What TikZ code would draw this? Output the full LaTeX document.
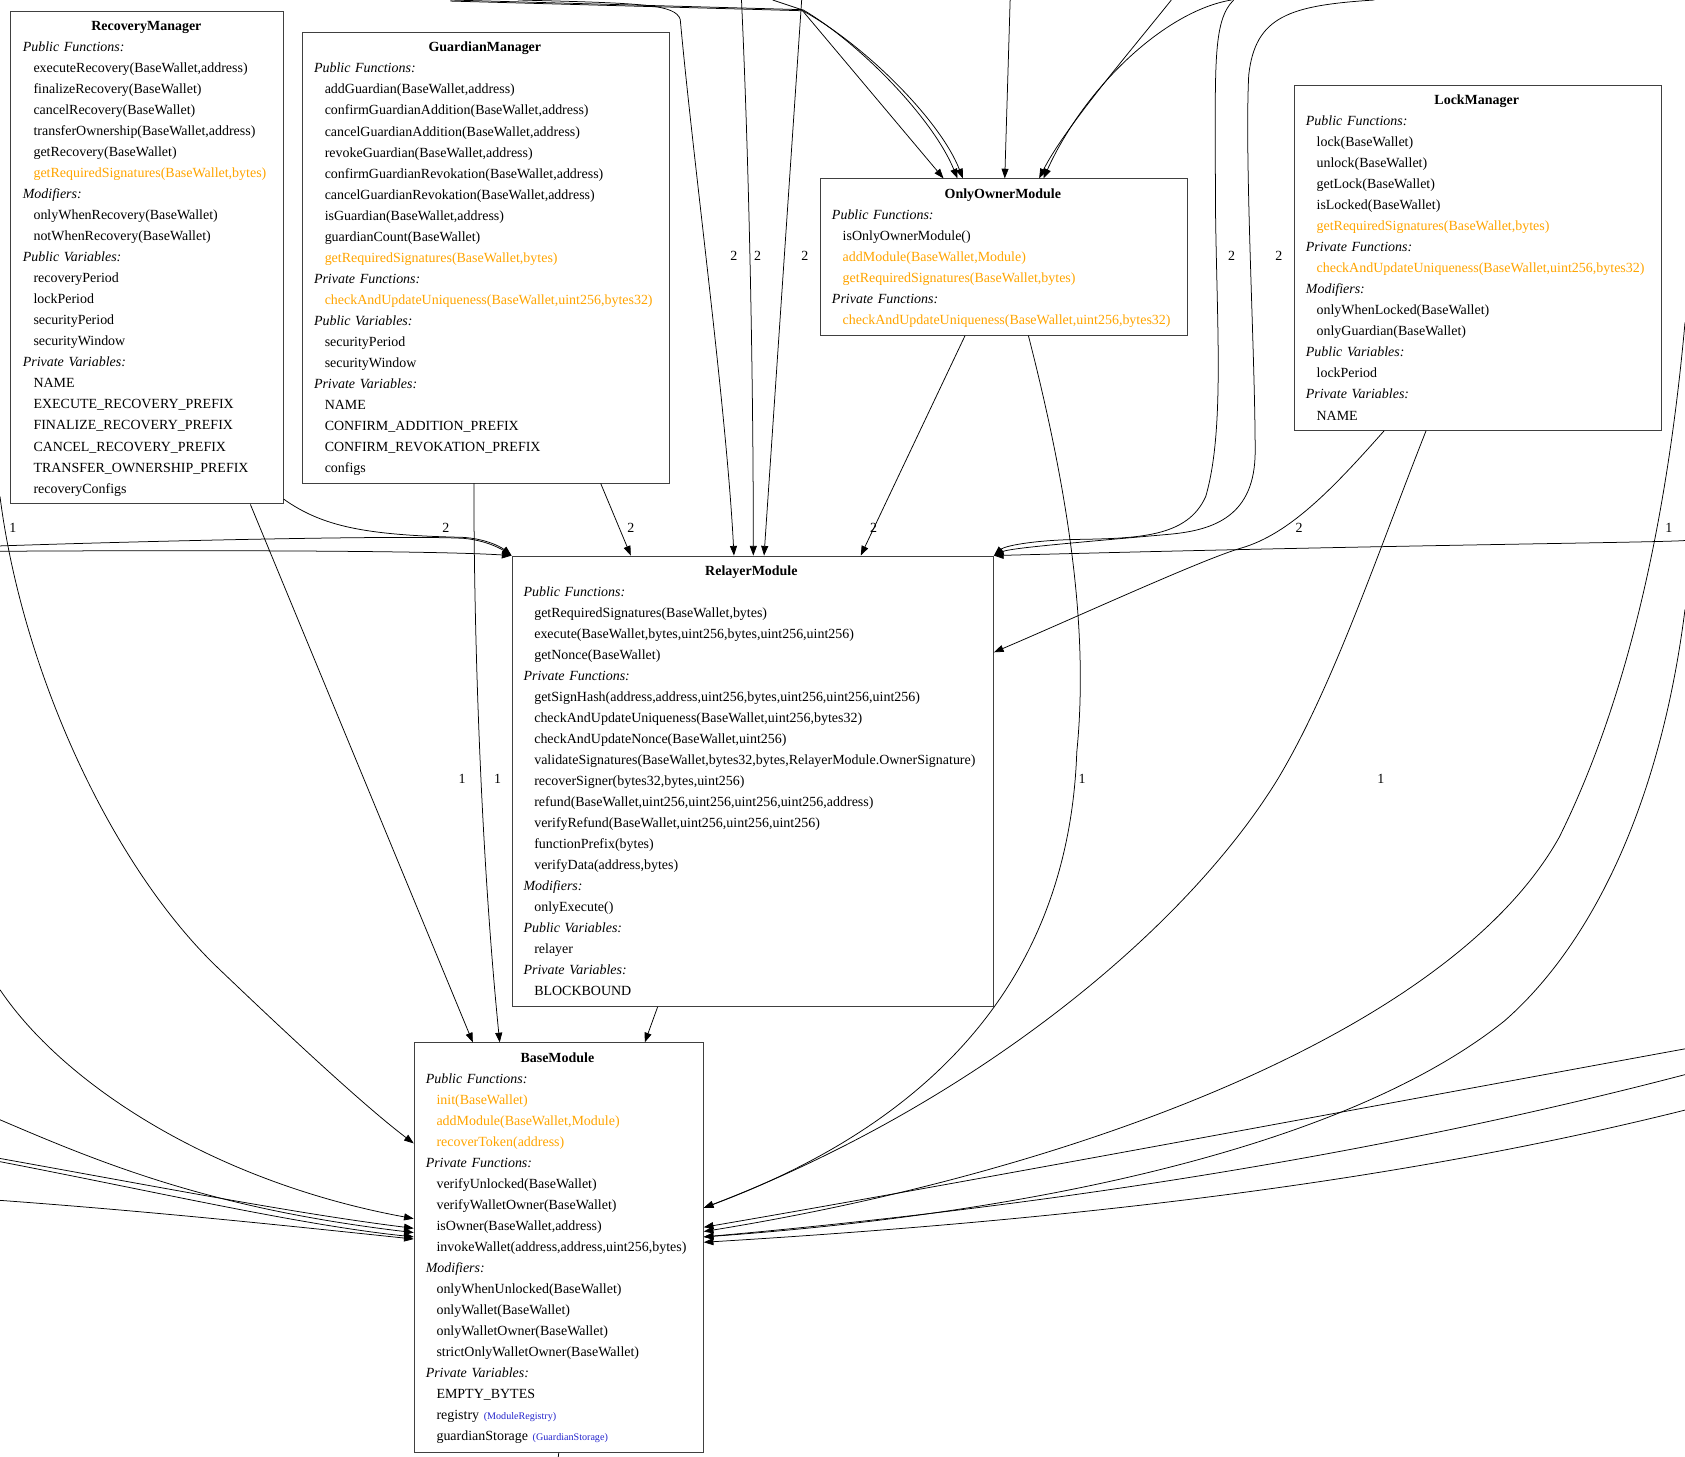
\documentclass[tikz,border=0pt]{standalone}
\usepackage{fontspec}
\setmainfont{Liberation Serif}
\usetikzlibrary{arrows.meta,calc}
\definecolor{fnorange}{HTML}{FFA500}
\definecolor{typblue}{HTML}{2424CC}
\newcommand\ttl[1]{\makebox[\linewidth][c]{\bfseries #1}\par}
\newcommand\hd[1]{\mbox{\itshape #1}\par}
\newcommand\itm[1]{\mbox{\hspace*{10pt}#1}\par}
\newcommand\oitm[1]{\mbox{\hspace*{10pt}\textcolor{fnorange}{#1}}\par}
\newcommand\typ[1]{{\fontsize{9.4}{10}\selectfont\textcolor{typblue}{(#1)}}}
\tikzset{
  cls/.style={draw=black!75, line width=0.9pt, inner sep=0pt, anchor=north west, fill=white},
  txt/.style={anchor=base west, inner sep=0pt, align=left, font=\fontsize{13}{19.57}\selectfont},
  edge/.style={draw, line width=0.7pt, -{Triangle[length=9pt,width=6.5pt]}},
  plain/.style={draw, line width=0.7pt},
  lbl/.style={inner sep=0pt, font=\fontsize{13}{14}\selectfont}
}
\begin{document}
\begin{tikzpicture}[x=1pt,y=-1pt]
\useasboundingbox[fill=white] (0,0) rectangle (1568,1355);

% free ends
\coordinate (tA) at (482,0);
\coordinate (tB) at (690,0);
\coordinate (tC) at (746,0);
\coordinate (tD) at (1148,0);
\coordinate (tE) at (1279,0);
\coordinate (tF) at (419,0);
\coordinate (tG) at (419,1);
\coordinate (tH) at (719,0);
\coordinate (tI) at (940,0);
\coordinate (tJ) at (1090,0);
\coordinate (tK) at (1146,0);
\coordinate (lA) at (0,508);
\coordinate (lA2) at (0,513);
\coordinate (lB) at (0,462);
\coordinate (lC) at (0,921);
\coordinate (lD) at (0,1042);
\coordinate (lE) at (0,1078);
\coordinate (lF) at (0,1081);
\coordinate (lG) at (0,1117);
\coordinate (rA) at (1568,503);
\coordinate (rB) at (1568,300);
\coordinate (rC) at (1568,567);
\coordinate (rD) at (1568,976);
\coordinate (rE) at (1568,1000);
\coordinate (rF) at (1568,1033);
\coordinate (bB) at (519.5,1356);

% boxes
\node[cls, minimum width=254pt, minimum height=458.5pt] (rm) at (9,10) {};
\node[cls, minimum width=342pt, minimum height=419pt] (gm) at (281,30) {};
\node[cls, minimum width=342pt, minimum height=145.5pt] (oo) at (763,166) {};
\node[cls, minimum width=342pt, minimum height=321pt] (lm) at (1204,79) {};
\node[cls, minimum width=448pt, minimum height=419pt] (rl) at (476,517) {};
\node[cls, minimum width=269pt, minimum height=381pt] (bm) at (385,970) {};

% box texts
\node[txt, text width=230pt] (rmt) at (21,28.3) {%
\ttl{RecoveryManager}
\hd{Public Functions:}
\itm{executeRecovery(BaseWallet,address)}
\itm{finalizeRecovery(BaseWallet)}
\itm{cancelRecovery(BaseWallet)}
\itm{transferOwnership(BaseWallet,address)}
\itm{getRecovery(BaseWallet)}
\oitm{getRequiredSignatures(BaseWallet,bytes)}
\hd{Modifiers:}
\itm{onlyWhenRecovery(BaseWallet)}
\itm{notWhenRecovery(BaseWallet)}
\hd{Public Variables:}
\itm{recoveryPeriod}
\itm{lockPeriod}
\itm{securityPeriod}
\itm{securityWindow}
\hd{Private Variables:}
\itm{NAME}
\itm{EXECUTE\_RECOVERY\_PREFIX}
\itm{FINALIZE\_RECOVERY\_PREFIX}
\itm{CANCEL\_RECOVERY\_PREFIX}
\itm{TRANSFER\_OWNERSHIP\_PREFIX}
\itm{recoveryConfigs}};

\node[txt, text width=318pt] (gmt) at (292,48.3) {%
\ttl{GuardianManager}
\hd{Public Functions:}
\itm{addGuardian(BaseWallet,address)}
\itm{confirmGuardianAddition(BaseWallet,address)}
\itm{cancelGuardianAddition(BaseWallet,address)}
\itm{revokeGuardian(BaseWallet,address)}
\itm{confirmGuardianRevokation(BaseWallet,address)}
\itm{cancelGuardianRevokation(BaseWallet,address)}
\itm{isGuardian(BaseWallet,address)}
\itm{guardianCount(BaseWallet)}
\oitm{getRequiredSignatures(BaseWallet,bytes)}
\hd{Private Functions:}
\oitm{checkAndUpdateUniqueness(BaseWallet,uint256,bytes32)}
\hd{Public Variables:}
\itm{securityPeriod}
\itm{securityWindow}
\hd{Private Variables:}
\itm{NAME}
\itm{CONFIRM\_ADDITION\_PREFIX}
\itm{CONFIRM\_REVOKATION\_PREFIX}
\itm{configs}};

\node[txt, text width=318pt] (oot) at (774,184.3) {%
\ttl{OnlyOwnerModule}
\hd{Public Functions:}
\itm{isOnlyOwnerModule()}
\oitm{addModule(BaseWallet,Module)}
\oitm{getRequiredSignatures(BaseWallet,bytes)}
\hd{Private Functions:}
\oitm{checkAndUpdateUniqueness(BaseWallet,uint256,bytes32)}};

\node[txt, text width=318pt] (lmt) at (1215,97.3) {%
\ttl{LockManager}
\hd{Public Functions:}
\itm{lock(BaseWallet)}
\itm{unlock(BaseWallet)}
\itm{getLock(BaseWallet)}
\itm{isLocked(BaseWallet)}
\oitm{getRequiredSignatures(BaseWallet,bytes)}
\hd{Private Functions:}
\oitm{checkAndUpdateUniqueness(BaseWallet,uint256,bytes32)}
\hd{Modifiers:}
\itm{onlyWhenLocked(BaseWallet)}
\itm{onlyGuardian(BaseWallet)}
\hd{Public Variables:}
\itm{lockPeriod}
\hd{Private Variables:}
\itm{NAME}};

\node[txt, text width=424pt] (rlt) at (487,535.3) {%
\ttl{RelayerModule}
\hd{Public Functions:}
\itm{getRequiredSignatures(BaseWallet,bytes)}
\itm{execute(BaseWallet,bytes,uint256,bytes,uint256,uint256)}
\itm{getNonce(BaseWallet)}
\hd{Private Functions:}
\itm{getSignHash(address,address,uint256,bytes,uint256,uint256,uint256)}
\itm{checkAndUpdateUniqueness(BaseWallet,uint256,bytes32)}
\itm{checkAndUpdateNonce(BaseWallet,uint256)}
\itm{validateSignatures(BaseWallet,bytes32,bytes,RelayerModule.OwnerSignature)}
\itm{recoverSigner(bytes32,bytes,uint256)}
\itm{refund(BaseWallet,uint256,uint256,uint256,uint256,address)}
\itm{verifyRefund(BaseWallet,uint256,uint256,uint256)}
\itm{functionPrefix(bytes)}
\itm{verifyData(address,bytes)}
\hd{Modifiers:}
\itm{onlyExecute()}
\hd{Public Variables:}
\itm{relayer}
\hd{Private Variables:}
\itm{BLOCKBOUND}};

\node[txt, text width=245pt] (bmt) at (396,988.3) {%
\ttl{BaseModule}
\hd{Public Functions:}
\oitm{init(BaseWallet)}
\oitm{addModule(BaseWallet,Module)}
\oitm{recoverToken(address)}
\hd{Private Functions:}
\itm{verifyUnlocked(BaseWallet)}
\itm{verifyWalletOwner(BaseWallet)}
\itm{isOwner(BaseWallet,address)}
\itm{invokeWallet(address,address,uint256,bytes)}
\hd{Modifiers:}
\itm{onlyWhenUnlocked(BaseWallet)}
\itm{onlyWallet(BaseWallet)}
\itm{onlyWalletOwner(BaseWallet)}
\itm{strictOnlyWalletOwner(BaseWallet)}
\hd{Private Variables:}
\itm{EMPTY\_BYTES}
\itm{registry \typ{ModuleRegistry}}
\itm{guardianStorage \typ{GuardianStorage}}};

% edges into RelayerModule
\draw[edge] (tA) .. controls (600,3) and (628,4) .. (633,18) .. controls (645,150) and (676,380) .. ($(rl.north west)+(207,0)$);
\draw[edge] (tB) .. controls (697,150) and (701,350) .. ($(rl.north west)+(225,0)$);
\draw[edge] (tC) -- ($(rl.north west)+(235,0)$);
\draw[edge] ($(gm.south west)+(278,0)$) -- ($(rl.north west)+(111,0)$);
\draw[edge] ($(oo.south west)+(135,0)$) -- ($(rl.north west)+(325,0)$);
\draw[edge] ($(rm.south east)+(0,-5)$) .. controls (300,490) and (340,498) .. (430,500) .. controls (450,501) and (465,508) .. (rl.north west);
\draw[edge] (lA) .. controls (150,503) and (380,498) .. (432,501) .. controls (452,503) and (465,510) .. (rl.north west);
\draw[edge] (lA2) .. controls (150,512) and (400,512) .. (rl.north west);
\draw[edge] (tD) .. controls (1128,20) and (1131,60) .. (1131,186) .. controls (1132,300) and (1140,400) .. (1122,462) .. controls (1105,500) and (1060,501) .. (1000,502) .. controls (960,503) and (935,508) .. (rl.north east);
\draw[edge] (tE) .. controls (1200,5) and (1168,15) .. (1162,70) .. controls (1158,150) and (1168,330) .. (1168,420) .. controls (1168,480) and (1130,493) .. (1090,497) .. controls (1000,505) and (940,510) .. (rl.north east);
\draw[edge] (rA) .. controls (1540,505) and (1300,507) .. (rl.north east);
\draw[edge] ($(lm.south west)+(84,0)$) .. controls (1240,455) and (1200,497) .. (1155,510) .. controls (1120,520) and (1000,575) .. ($(rl.north east)+(0,90)$);

% edges into OnlyOwnerModule
\draw[edge] (tF) -- (747,9) .. controls (800,40) and (868,110) .. ($(oo.north west)+(128,0)$);
\draw[edge] (tG) -- (747,10) .. controls (805,42) and (875,112) .. ($(oo.north west)+(133,0)$);
\draw[edge] (tH) -- (746,9) -- ($(oo.north west)+(115,0)$);
\draw[edge] (tI) -- ($(oo.north west)+(172,0)$);
\draw[edge] (tJ) .. controls (1050,50) and (990,120) .. ($(oo.north west)+(204,0)$);
\draw[edge] (tK) .. controls (1085,10) and (1010,80) .. ($(oo.north west)+(208,0)$);

% edges into BaseModule
\draw[edge] ($(rm.south west)+(224,0)$) -- ($(bm.north west)+(55,0)$);
\draw[edge] ($(gm.south west)+(160,0)$) .. controls (441,600) and (448,800) .. ($(bm.north west)+(80,0)$);
\draw[edge] ($(rl.south west)+(136,0)$) -- ($(bm.north west)+(215,0)$);
\draw[edge] (lB) .. controls (20,620) and (100,800) .. (200,898) .. controls (270,965) and (340,1030) .. ($(bm.north west)+(0,94)$);
\draw[edge] (lC) .. controls (60,1010) and (200,1100) .. ($(bm.north west)+(0,164)$);
\draw[edge] (lD) .. controls (100,1085) and (200,1125) .. ($(bm.north west)+(0,177)$);
\draw[edge] (lE) .. controls (150,1105) and (280,1130) .. ($(bm.north west)+(0,173)$);
\draw[edge] (lF) .. controls (150,1110) and (280,1140) .. ($(bm.north west)+(0,181)$);
\draw[edge] (lG) .. controls (150,1128) and (280,1142) .. ($(bm.north west)+(0,183)$);
\draw[edge] ($(oo.south west)+(194,0)$) .. controls (1000,480) and (1012,600) .. (1002,700) .. controls (995,900) and (880,1040) .. ($(bm.north east)+(0,154)$);
\draw[edge] ($(lm.south west)+(123,0)$) .. controls (1280,520) and (1240,640) .. (1189,725) .. controls (1100,870) and (900,1030) .. ($(bm.north east)+(0,154)$);
\draw[edge] (rB) .. controls (1550,500) and (1510,660) .. (1451,779) .. controls (1350,960) and (1000,1090) .. ($(bm.north east)+(0,176)$);
\draw[edge] (rC) .. controls (1545,750) and (1480,880) .. (1400,950) .. controls (1250,1070) and (950,1130) .. ($(bm.north east)+(0,181)$);
\draw[edge] (rD) .. controls (1300,1025) and (900,1100) .. ($(bm.north east)+(0,172)$);
\draw[edge] (rE) .. controls (1300,1070) and (1000,1120) .. ($(bm.north east)+(0,181)$);
\draw[edge] (rF) .. controls (1300,1100) and (1000,1135) .. ($(bm.north east)+(0,186)$);
\draw[plain] (bm.south) -- (bB);

% edge labels
\node[lbl] (n1) at (12,491) {1};
\node[lbl] (n2) at (415,491) {2};
\node[lbl] (n3) at (587,491) {2};
\node[lbl] (n4) at (813,491) {2};
\node[lbl] (n5) at (1209,491) {2};
\node[lbl] (n6) at (1553,491) {1};
\node[lbl] (n7) at (683,238) {2};
\node[lbl] (n8) at (705,238) {2};
\node[lbl] (n9) at (749,238) {2};
\node[lbl] (n10) at (1146,238) {2};
\node[lbl] (n11) at (1190,238) {2};
\node[lbl] (n12) at (430,725) {1};
\node[lbl] (n13) at (463,725) {1};
\node[lbl] (n14) at (1007,725) {1};
\node[lbl] (n15) at (1285,725) {1};
\end{tikzpicture}
\end{document}
